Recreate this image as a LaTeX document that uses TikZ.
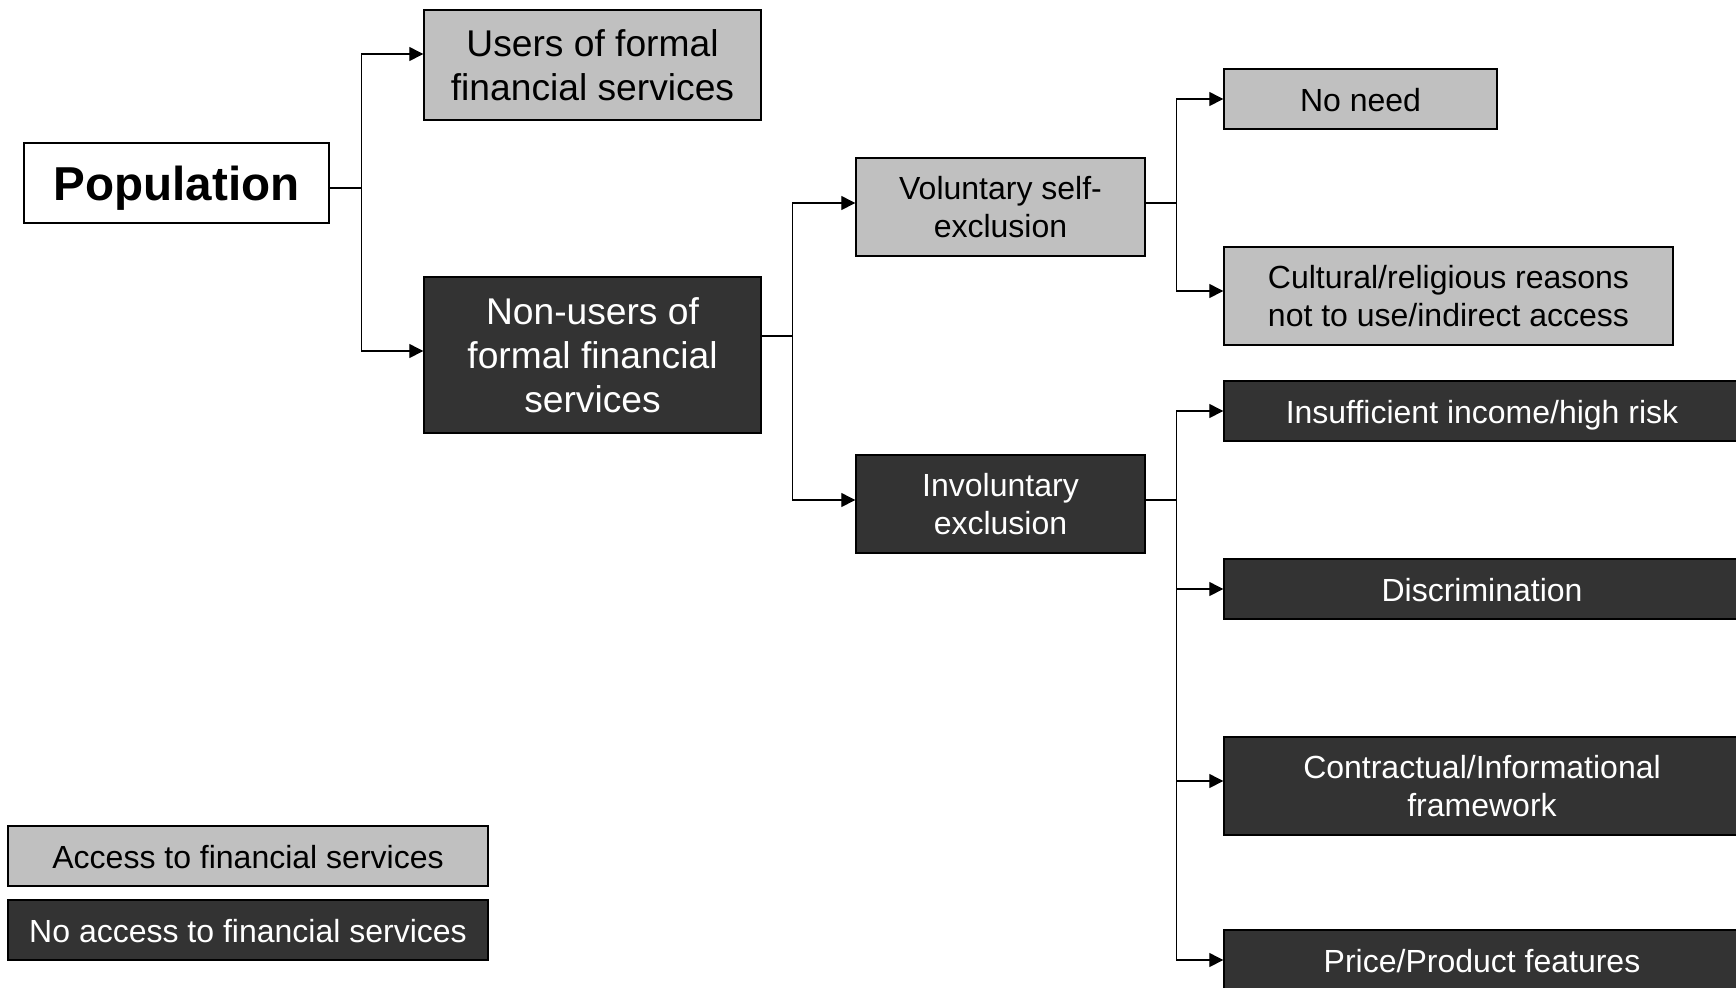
\documentclass[tikz,border=0pt]{standalone}
\usepackage{fontspec}
\setmainfont{Liberation Sans}
\usetikzlibrary{positioning, arrows.meta}
\definecolor{boxgray}{HTML}{C0C0C0}
\definecolor{boxdark}{HTML}{333333}
\tikzset{
	>={Triangle[length=7pt,width=7pt]},
	every node/.style={draw, rectangle, line width=0.7pt, inner sep=0pt, align=center},
	light/.style={fill=boxgray, text=black},
	dark/.style={fill=boxdark, text=white},
	big/.style={font=\fontsize{18.6}{22}\selectfont},
	small/.style={font=\fontsize{16}{18.8}\selectfont},
	oneline/.style={text height=12.8pt, text depth=0pt},
	wire/.style={line width=0.65pt},
	link/.style={wire, ->},
}

\begin{document}
\begin{tikzpicture}[x=0.5pt, y=-0.5pt]
			\useasboundingbox (0,0) rectangle (1736,987);
			\node[fill=white, text height=17.6pt, text depth=0pt, font=\bfseries\fontsize{23.8}{28}\selectfont, minimum width=152.5pt, minimum height=40pt] (POP) at (176.5,183) {Population};
			\node[light, big, minimum width=168.5pt, minimum height=55pt] (USERS) at (592.5,65) {Users of formal\\financial services};
			\node[dark, big, minimum width=168.5pt, minimum height=78pt] (NONUSERS) at (592.5,355) {Non-users of\\formal financial\\services};
			\node[light, small, minimum width=144.5pt, minimum height=49pt] (VOL) at (1000.5,207) {Voluntary self-\\exclusion};
			\node[dark, small, minimum width=144.5pt, minimum height=49pt] (INVOL) at (1000.5,504) {Involuntary\\exclusion};
			\node[light, small, oneline, minimum width=136.5pt, minimum height=30pt] (NONEED) at (1360.5,99) {No need};
			\node[light, small, minimum width=224.5pt, minimum height=49pt] (CULT) at (1448.5,296) {Cultural/religious reasons\\not to use/indirect access};
			\node[dark, small, oneline, minimum width=258pt, minimum height=30pt] (INCOME) at (1482,411) {Insufficient income/high risk};
			\node[dark, small, oneline, minimum width=258pt, minimum height=30pt, below=58.3pt of INCOME] (DISCR) {Discrimination};
			\node[dark, small, minimum width=258pt, minimum height=49pt, below=58.3pt of DISCR] (CONTRACT) {Contractual/Informational\\framework};
			\node[dark, small, oneline, minimum width=258pt, minimum height=30pt, below=46.8pt of CONTRACT] (PRICE) {Price/Product features};
			\node[light, small, oneline, minimum width=240pt, minimum height=30pt] (LEGA) at (248,856) {Access to financial services};
			\node[dark, small, oneline, minimum width=240pt, minimum height=30pt, below=6.3pt of LEGA] (LEGB) {No access to financial services};
			
			\draw[wire] ([yshift=-2.5pt]POP.east) -- ++(16pt,0) coordinate (s1);
			\draw[link] (s1) |- ([yshift=5.5pt]USERS.west);
			\draw[link] (s1) |- ([yshift=2pt]NONUSERS.west);
			\draw[wire] ([yshift=9.5pt]NONUSERS.east) -- ++(15.5pt,0) coordinate (s2);
			\draw[link] (s2) |- ([yshift=2pt]VOL.west);
			\draw[link] (s2) |- ([yshift=2pt]INVOL.west);
			\draw[wire] ([yshift=2pt]VOL.east) -- ++(15.5pt,0) coordinate (s3);
			\draw[link] (s3) |- (NONEED.west);
			\draw[link] (s3) |- ([yshift=2.5pt]CULT.west);
			\draw[wire] ([yshift=2pt]INVOL.east) -- ++(15.5pt,0) coordinate (s4);
			\draw[link] (s4) |- (INCOME.west);
			\draw[link] (s4) |- (DISCR.west);
			\draw[link] (s4) |- ([yshift=2.5pt]CONTRACT.west);
			\draw[link] (s4) |- (PRICE.west);
\end{tikzpicture}
\end{document}
